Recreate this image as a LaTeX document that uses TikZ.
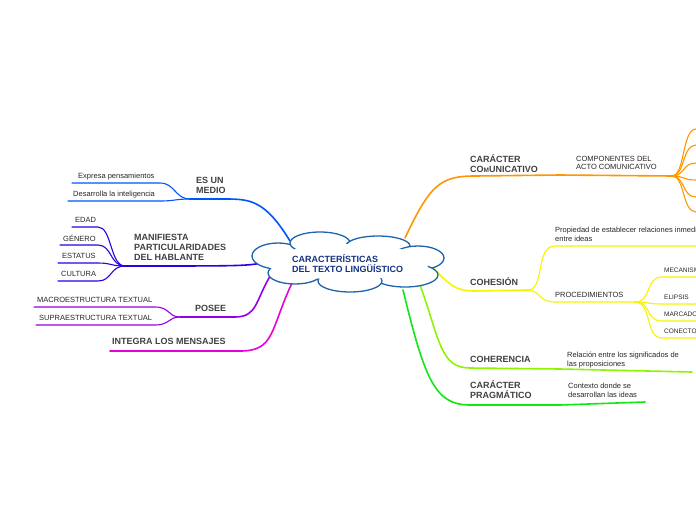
\documentclass[tikz,border=0pt]{standalone}
\usepackage{fontspec}
\setmainfont{Liberation Sans}
\usepackage{xcolor}
\usetikzlibrary{positioning}
\definecolor{cOrange}{RGB}{255,150,0}
\definecolor{cYellow}{RGB}{245,245,0}
\definecolor{cLime}{RGB}{140,245,0}
\definecolor{cGreen}{RGB}{20,230,20}
\definecolor{cBlue}{RGB}{0,85,250}
\definecolor{cIndigo}{RGB}{45,0,225}
\definecolor{cPurple}{RGB}{150,0,230}
\definecolor{cMagenta}{RGB}{230,0,220}
\definecolor{cCloud}{RGB}{30,100,170}
\definecolor{cTitle}{RGB}{20,50,130}
\tikzset{
  main/.style={font=\fontsize{9}{10}\selectfont\bfseries, text=black!75, align=left, anchor=west, inner sep=0pt},
  leaf/.style={font=\fontsize{7.5}{8.8}\selectfont, text=black!85, align=left, anchor=west, inner sep=0pt},
  branch/.style={line width=1.6pt, line cap=round},
  twig/.style={line width=1.1pt, line cap=round},
  puff/.style={draw=cCloud, line width=1.3pt, fill=white}
}
\begin{document}
\begin{tikzpicture}[x=1pt,y=-1pt]
    \path[use as bounding box] (0,0) rectangle (696,520);
    \clip (0,0) rectangle (696,520);

    % Left side
    \coordinate (medioA) at (290,241);
    \coordinate (medioB) at (190,199);
    \draw[branch, cBlue] (medioA) .. controls (265,200) and (250,199) .. (225,199) -- (medioB);
    \node[main] (medio) at (196,185) {ES UN\\MEDIO};
    \coordinate (expresa) at (72,183);
    \coordinate (desarrolla) at (68,201);
    \draw[twig, cBlue] (medioB) .. controls (175,199) and (175,183) .. (160,183) -- (expresa);
    \draw[twig, cBlue] (medioB) .. controls (175,199) and (175,201) .. (160,201) -- (desarrolla);
    \node[leaf] at (78,177) {Expresa pensamientos};
    \node[leaf] at (73,195) {Desarrolla la inteligencia};

    \coordinate (manifA) at (262,263);
    \coordinate (manifB) at (125,266);
    \draw[branch, cIndigo] (manifA) .. controls (245,266) and (240,266) .. (manifB);
    \node[main] (manif) at (134,247) {MANIFIESTA\\PARTICULARIDADES\\DEL HABLANTE};
    \foreach \name/\y/\xl/\tx in {EDAD/227/72/75, GÉNERO/245/60/63, ESTATUS/263/58/62, CULTURA/281/58/61}{
        \draw[twig, cIndigo] (manifB) .. controls (110,266) and (112,\y) .. (98,\y) -- (\xl,\y);
        \node[leaf] at (\tx,\y-7) {\name};
    }

    \coordinate (poseeA) at (272,273);
    \coordinate (poseeB) at (180,317);
    \draw[branch, cPurple] (poseeA) .. controls (255,300) and (258,317) .. (235,317) -- (poseeB);
    \node[main] (posee) at (195,308) {POSEE};
    \coordinate (macro) at (34,307);
    \coordinate (supra) at (36,325);
    \draw[twig, cPurple] (poseeB) .. controls (168,317) and (170,307) .. (155,307) -- (macro);
    \draw[twig, cPurple] (poseeB) .. controls (168,317) and (170,325) .. (155,325) -- (supra);
    \node[leaf] at (37,300) {MACROESTRUCTURA TEXTUAL};
    \node[leaf] at (39,318) {SUPRAESTRUCTURA TEXTUAL};

    \coordinate (integraA) at (292,283);
    \coordinate (integraB) at (110,351);
    \draw[branch, cMagenta] (integraA) .. controls (270,330) and (275,351) .. (240,351) -- (integraB);
    \node[main] (integra) at (112,341) {INTEGRA LOS MENSAJES};

    % Right side
    \coordinate (comA) at (405,238);
    \coordinate (comB) at (560,175);
    \coordinate (comC) at (672,176);
    \draw[branch, cOrange] (comA) .. controls (430,185) and (440,176) .. (475,176) -- (comB) -- (comC);
    \node[main] (com) at (470,164) {CARÁCTER\\CO{\fontsize{6.5}{7}\selectfont M}UNICATIVO};
    \node[leaf] (componentes) at (576,163) {COMPONENTES DEL\\ACTO COMUNICATIVO};
    \foreach \y in {129,145,163,180,197,212}{
        \draw[twig, cOrange] (comC) .. controls (685,176) and (682,\y) .. (696,\y);
    }

    \coordinate (cohA) at (432,267);
    \coordinate (cohB) at (528,290);
    \coordinate (procB) at (635,302);
    \draw[branch, cYellow] (cohA) .. controls (450,285) and (455,291) .. (475,291) -- (cohB);
    \node[main] (coh) at (470,282) {COHESIÓN};
    \draw[twig, cYellow] (cohB) .. controls (545,290) and (535,246) .. (555,246) -- (696,246);
    \node[leaf] (prop) at (555,234) {Propiedad de establecer relaciones inmediatas\\entre ideas};
    \draw[twig, cYellow] (cohB) .. controls (540,290) and (538,302) .. (555,302) -- (procB);
    \node[leaf] (proc) at (555,295) {PROCEDIMIENTOS};
    \foreach \name/\y in {MECANISMOS/277, ELIPSIS/304, MARCADORES/321, CONECTORES/338}{
        \draw[twig, cYellow] (procB) .. controls (652,302) and (645,\y) .. (662,\y) -- (696,\y);
        \node[leaf, font=\fontsize{6.5}{7.5}\selectfont] at (664,\y-7) {\name};
    }

    \coordinate (cohrA) at (420,285);
    \draw[branch, cLime] (cohrA) .. controls (440,340) and (440,368) .. (470,368) -- (560,369) -- (692,372);
    \node[main] (cohr) at (470,359) {COHERENCIA};
    \node[leaf] (rel) at (567,360) {Relación entre los significados de\\las proposiciones};

    \coordinate (pragA) at (403,290);
    \draw[branch, cGreen] (pragA) .. controls (425,380) and (435,405) .. (470,405) -- (560,405) -- (645,402);
    \node[main] (prag) at (470,390) {CARÁCTER\\PRAGMÁTICO};
    \node[leaf] (ctx) at (568,390) {Contexto donde se\\desarrollan las ideas};

    % Central cloud
    \foreach \cx/\cy/\rx/\ry in {278/256/26/13, 320/243/30/11, 378/246/32/10, 418/258/26/12,
                                 405/275/33/12, 350/281/32/11, 295/273/27/11}{
        \path[puff] (\cx,\cy) ellipse [x radius=\rx, y radius=\ry];
    }
    \fill[white] (348,262) ellipse [x radius=75, y radius=18];
    \fill[white] (288,264) ellipse [x radius=20, y radius=8];
    \fill[white] (410,266) ellipse [x radius=18, y radius=7];
    \node[font=\fontsize{9}{10}\selectfont\bfseries, text=cTitle, align=left, anchor=west, inner sep=0pt] (title) at (292,264)
        {CARACTERÍSTICAS\\DEL TEXTO LINGÜÍSTICO};
\end{tikzpicture}
\end{document}
